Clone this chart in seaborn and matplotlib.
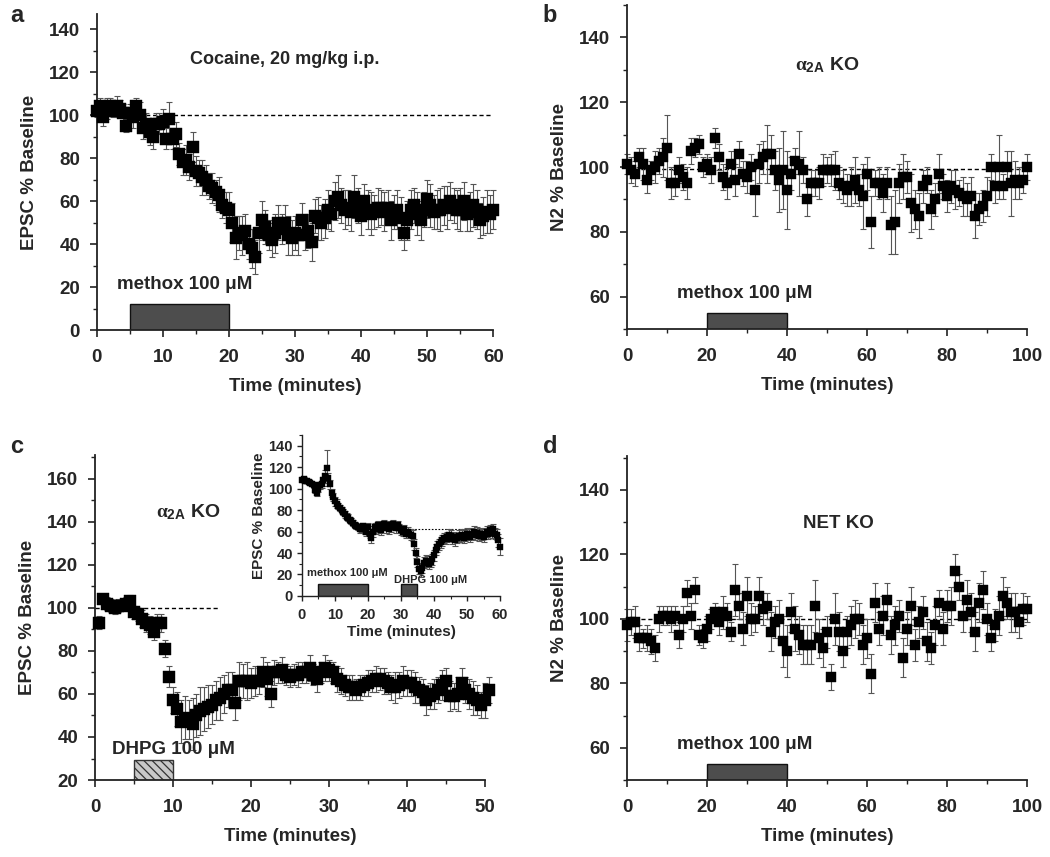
import numpy as np
import pandas as pd
import seaborn as sns
import matplotlib.pyplot as plt
from matplotlib.ticker import MultipleLocator

# ---- data ----
# panel a: cocaine, EPSC % baseline, sampled every 0.5 min from 0 to 60
a_time = np.arange(0, 60.5, 0.5)
a_epsc = [102, 104, 99, 103, 104, 102, 104, 103, 101, 95,
          101, 99, 104, 100, 94, 96, 92, 90, 96, 96,
          97, 89, 98, 89, 91, 82, 78, 79, 76, 85,
          74, 73, 71, 70, 67, 66, 64, 63, 58, 57,
          56, 50, 43, 45, 44, 46, 40, 38, 34, 45,
          51, 48, 44, 42, 45, 50, 47, 50, 44, 43,
          45, 44, 51, 44, 46, 41, 53, 52, 50, 52,
          56, 54, 60, 62, 58, 56, 57, 55, 62, 58,
          53, 60, 56, 54, 55, 57, 57, 55, 57, 51,
          55, 56, 52, 45, 51, 56, 58, 54, 51, 56,
          61, 58, 55, 56, 56, 58, 57, 60, 58, 56,
          56, 60, 54, 55, 58, 56, 51, 53, 55, 54,
          56]
a_err = [3, 4, 4, 5, 4, 3, 5, 4, 4, 3,
         4, 5, 4, 6, 5, 5, 6, 6, 5, 5,
         6, 5, 8, 5, 6, 5, 6, 7, 6, 7,
         7, 6, 8, 7, 6, 7, 6, 8, 6, 7,
         8, 9, 10, 8, 9, 8, 7, 9, 8, 9,
         9, 8, 7, 8, 9, 8, 7, 8, 9, 8,
         8, 9, 8, 7, 8, 9, 8, 10, 8, 9,
         9, 8, 9, 10, 8, 9, 8, 9, 10, 8,
         9, 8, 9, 10, 8, 9, 8, 9, 8, 9,
         8, 9, 10, 8, 9, 9, 8, 10, 9, 8,
         9, 10, 8, 9, 10, 9, 10, 9, 8, 9,
         10, 9, 8, 9, 10, 9, 8, 9, 10, 9,
         9]

# panel b: alpha2A KO, N2 % baseline, every minute 0-100
b_time = np.arange(0, 101, 1)
b_n2 = [101, 99, 98, 103, 101, 96, 99, 100, 102, 103,
        106, 95, 95, 99, 97, 95, 105, 106, 107, 100,
        101, 99, 109, 103, 97, 95, 101, 96, 104, 98,
        97, 100, 93, 101, 103, 104, 104, 99, 96, 99,
        93, 98, 102, 101, 99, 90, 95, 95, 95, 99,
        99, 99, 99, 95, 94, 93, 94, 96, 93, 91,
        98, 83, 95, 95, 92, 95, 82, 83, 95, 97,
        97, 89, 87, 85, 94, 96, 87, 90, 98, 94,
        91, 94, 93, 92, 91, 90, 91, 85, 87, 88,
        91, 100, 94, 100, 94, 100, 95, 96, 95, 96,
        100]
b_err = [3, 4, 4, 3, 5, 4, 3, 5, 4, 6,
         10, 5, 4, 4, 4, 5, 4, 3, 3, 3,
         3, 4, 3, 4, 4, 5, 4, 5, 4, 4,
         5, 4, 8, 6, 5, 9, 6, 6, 10, 12,
         12, 5, 4, 10, 4, 5, 4, 4, 5, 5,
         4, 5, 6, 5, 5, 5, 6, 7, 5, 10,
         5, 8, 4, 5, 6, 5, 9, 10, 6, 7,
         5, 9, 6, 7, 5, 4, 6, 5, 6, 4,
         5, 5, 6, 4, 6, 5, 6, 7, 5, 5,
         6, 4, 5, 10, 4, 5, 10, 6, 5, 4,
         4]

# panel c: alpha2A KO, DHPG, EPSC % baseline, every 0.5 min 0.5-50.5
c_time = np.arange(0.5, 51, 0.5)
c_epsc = [93, 104, 102, 101, 100, 101, 101, 102, 103, 98,
          97, 95, 93, 92, 89, 93, 93, 81, 68, 57,
          53, 47, 49, 48, 46, 50, 52, 53, 54, 55,
          57, 58, 60, 62, 62, 56, 66, 66, 66, 65,
          66, 66, 70, 67, 60, 70, 70, 71, 69, 68,
          69, 69, 70, 70, 72, 69, 67, 70, 72, 71,
          70, 67, 66, 64, 63, 63, 62, 63, 64, 65,
          66, 67, 67, 66, 65, 63, 63, 64, 66, 65,
          65, 63, 62, 61, 57, 59, 60, 62, 64, 66,
          59, 59, 60, 65, 62, 60, 58, 57, 55, 57,
          62]
c_err = [3, 2, 3, 3, 3, 3, 2, 3, 3, 3,
         3, 4, 4, 4, 4, 4, 4, 4, 5, 6,
         8, 10, 10, 9, 12, 10, 11, 10, 10, 9,
         9, 10, 9, 8, 8, 8, 9, 8, 9, 7,
         7, 6, 7, 8, 6, 6, 5, 6, 5, 5,
         5, 6, 5, 5, 6, 5, 6, 5, 6, 5,
         5, 6, 6, 5, 6, 6, 5, 6, 5, 6,
         5, 6, 5, 6, 5, 6, 7, 6, 7, 6,
         6, 7, 6, 6, 7, 6, 7, 6, 7, 6,
         7, 6, 8, 7, 6, 7, 8, 7, 6, 8,
         6]

# inset of c: methox then DHPG, every 0.5 min 0-60
i_time = np.arange(0, 60.5, 0.5)
i_epsc = [108, 109, 107, 107, 106, 105, 104, 103, 99, 96,
          100, 103, 104, 108, 112, 119, 110, 104, 96, 92,
          88, 86, 84, 82, 80, 78, 76, 74, 73, 71,
          70, 68, 66, 65, 64, 62, 63, 65, 62, 60,
          64, 58, 54, 60, 64, 62, 66, 63, 61, 65,
          67, 63, 66, 62, 64, 67, 65, 63, 66, 63,
          61, 60, 62, 58, 60, 58, 57, 56, 48, 40,
          32, 25, 23, 26, 31, 33, 32, 30, 32, 34,
          38, 43, 46, 48, 50, 52, 54, 53, 55, 57,
          56, 53, 55, 52, 54, 56, 55, 57, 54, 56,
          58, 57, 55, 58, 60, 57, 59, 56, 58, 57,
          55, 58, 60, 58, 61, 59, 62, 58, 57, 52,
          46]
i_err = [2, 2, 2, 2, 2, 2, 2, 2, 3, 3,
         3, 3, 3, 3, 5, 17, 5, 4, 4, 4,
         4, 4, 3, 3, 3, 3, 3, 3, 3, 3,
         3, 3, 3, 3, 3, 3, 3, 3, 4, 4,
         4, 4, 5, 5, 4, 4, 4, 4, 4, 4,
         4, 4, 4, 4, 4, 4, 4, 4, 4, 4,
         4, 4, 4, 4, 4, 4, 5, 5, 5, 5,
         5, 5, 5, 5, 5, 5, 5, 5, 5, 5,
         5, 5, 5, 5, 5, 5, 5, 5, 5, 5,
         5, 5, 5, 5, 5, 5, 5, 5, 5, 5,
         5, 5, 5, 5, 5, 5, 5, 5, 5, 5,
         5, 5, 5, 5, 5, 5, 5, 5, 5, 6,
         8]

# panel d: NET KO, N2 % baseline, every minute 0-100
d_time = np.arange(0, 101, 1)
d_n2 = [98, 99, 99, 94, 94, 94, 93, 91, 100, 101,
        101, 100, 101, 95, 100, 108, 101, 109, 95, 94,
        97, 100, 102, 99, 102, 101, 96, 109, 104, 97,
        107, 100, 100, 107, 103, 104, 96, 99, 100, 93,
        90, 102, 97, 95, 92, 92, 92, 104, 94, 91,
        96, 82, 100, 96, 90, 96, 98, 100, 100, 92,
        94, 83, 105, 97, 101, 106, 95, 98, 101, 88,
        97, 104, 92, 99, 102, 93, 91, 98, 105, 97,
        104, 104, 115, 110, 101, 106, 102, 96, 105, 109,
        100, 94, 98, 101, 107, 105, 102, 102, 99, 103,
        103]
d_err = [5, 4, 5, 4, 3, 4, 4, 4, 4, 3,
         3, 4, 3, 4, 4, 4, 4, 4, 3, 3,
         4, 3, 3, 4, 5, 4, 3, 8, 4, 5,
         6, 5, 4, 6, 5, 4, 6, 5, 6, 8,
         8, 6, 7, 6, 6, 6, 6, 8, 6, 6,
         5, 4, 8, 6, 5, 5, 6, 6, 5, 6,
         6, 6, 6, 5, 6, 5, 6, 6, 5, 6,
         5, 6, 5, 5, 5, 6, 5, 6, 4, 5,
         5, 6, 5, 4, 5, 6, 6, 6, 6, 6,
         5, 4, 5, 6, 6, 5, 6, 6, 5, 5,
         4]

# drug application windows (start, end) in minutes
a_methox = (5, 20)
b_methox = (20, 40)
c_dhpg = (5, 10)
i_methox = (5, 20)
i_dhpg = (30, 35)
d_methox = (20, 40)

# ---- style ----
sns.set_style('ticks')
plt.rcParams['font.family'] = ['Liberation Sans', 'DejaVu Sans']
plt.rcParams['font.weight'] = 'bold'
plt.rcParams['axes.labelweight'] = 'bold'
plt.rcParams['mathtext.fontset'] = 'custom'
plt.rcParams['mathtext.it'] = 'Liberation Serif'
plt.rcParams['mathtext.rm'] = 'Liberation Sans:bold'
plt.rcParams['mathtext.bf'] = 'Liberation Sans:bold'
plt.rcParams['hatch.linewidth'] = 0.9

fig = plt.figure(figsize=(10.5, 8.57), dpi=100)
ax_a = fig.add_axes([0.0921, 0.6149, 0.3777, 0.3687])
ax_b = fig.add_axes([0.5971, 0.6161, 0.381, 0.378])
ax_c = fig.add_axes([0.0905, 0.0898, 0.3714, 0.3792])
ax_d = fig.add_axes([0.5971, 0.0898, 0.381, 0.378])
ax_i = fig.add_axes([0.2876, 0.3046, 0.1886, 0.1879])
ax_i.patch.set_alpha(0)


def draw_series(ax, t, v, err, size):
    df = pd.DataFrame({'t': t, 'v': v, 'err': err})
    ax.errorbar(df['t'], df['v'], yerr=df['err'], fmt='none', ecolor='#555555',
                elinewidth=0.8, capsize=2.4, capthick=0.8, zorder=2, clip_on=False)
    sns.scatterplot(data=df, x='t', y='v', marker='s', s=size, color='black',
                    edgecolor='black', linewidth=0.3, ax=ax, zorder=3, clip_on=False,
                    legend=False)


def style_axis(ax, xlim, ylim, xmaj, xmin, ymaj, ymin, ylabel, fs=13.5, lfs=13.5, pad=9):
    ax.set_xlim(*xlim)
    ax.set_ylim(*ylim)
    ax.xaxis.set_major_locator(MultipleLocator(xmaj))
    ax.xaxis.set_minor_locator(MultipleLocator(xmin))
    ax.yaxis.set_major_locator(MultipleLocator(ymaj))
    ax.yaxis.set_minor_locator(MultipleLocator(ymin))
    sns.despine(ax=ax)
    for s in ['left', 'bottom']:
        ax.spines[s].set_linewidth(1.3)
        ax.spines[s].set_color('#222222')
    ax.tick_params(which='major', direction='out', length=5, width=1.2,
                   labelsize=fs, color='#222222')
    ax.tick_params(which='minor', direction='out', length=3, width=1.0, color='#222222')
    ax.tick_params(axis='x', which='major', pad=pad)
    ax.tick_params(axis='y', which='major', pad=7)
    ax.set_xlabel('Time (minutes)', fontsize=lfs, labelpad=8)
    ax.set_ylabel(ylabel, fontsize=lfs, labelpad=8)


def drug_bar(ax, span, y0, height, label, lx, ly, fs=13.5, hatched=False):
    if hatched:
        ax.bar(span[0], height, width=span[1] - span[0], bottom=y0, align='edge',
               color='#c8c8c8', edgecolor='#333333', hatch='\\\\\\\\', linewidth=1.0, zorder=1)
    else:
        ax.bar(span[0], height, width=span[1] - span[0], bottom=y0, align='edge',
               color='#4d4d4d', edgecolor='#111111', linewidth=1.0, zorder=1)
    if label:
        ax.text(lx, ly, label, fontsize=fs, fontweight='bold', ha='left', va='center')


dash = (0, (3, 2))

# a
ax_a.plot([0, 60], [100, 100], ls=dash, color='black', lw=1, zorder=1)
draw_series(ax_a, a_time, a_epsc, a_err, 70)
style_axis(ax_a, (0, 60), (0, 147), 10, 5, 20, 10, 'EPSC % Baseline')
drug_bar(ax_a, a_methox, 0, 12, 'methox 100 \u03bcM', 3, 21)
ax_a.text(28.5, 126, 'Cocaine, 20 mg/kg i.p.', fontsize=13, ha='center', va='center')

# b
ax_b.plot([0, 100], [99.5, 99.5], ls=dash, color='black', lw=1, zorder=1)
draw_series(ax_b, b_time, b_n2, b_err, 55)
style_axis(ax_b, (0, 100), (50, 150), 20, 10, 20, 10, 'N2 % Baseline')
drug_bar(ax_b, b_methox, 50, 5, 'methox 100 \u03bcM', 12.5, 61)
ax_b.text(50, 131.5, r'$\alpha_{\mathbf{2A}}$ KO', fontsize=14, ha='center', va='center')

# c
ax_c.plot([0, 16], [100, 100], ls=dash, color='black', lw=1, zorder=1)
draw_series(ax_c, c_time, c_epsc, c_err, 70)
style_axis(ax_c, (0, 50), (20, 171), 10, 5, 20, 10, 'EPSC % Baseline')
drug_bar(ax_c, c_dhpg, 20, 9.3, 'DHPG 100 \u03bcM', 2.2, 34, hatched=True)
ax_c.text(12, 144.5, r'$\alpha_{\mathbf{2A}}$ KO', fontsize=14, ha='center', va='center')

# inset
ax_i.plot([20, 61], [62, 62], ls=(0, (1.5, 1.5)), color='black', lw=0.8, zorder=1)
draw_series(ax_i, i_time, i_epsc, i_err, 18)
style_axis(ax_i, (0, 60), (0, 150), 10, 5, 20, 10, 'EPSC % Baseline', fs=10.5, lfs=11, pad=5)
ax_i.tick_params(which='major', length=3.5, width=1.0)
ax_i.tick_params(which='minor', length=2, width=0.8)
ax_i.tick_params(axis='y', which='major', pad=3)
ax_i.xaxis.labelpad = 2
ax_i.yaxis.labelpad = 2
for s in ['left', 'bottom']:
    ax_i.spines[s].set_linewidth(1.0)
drug_bar(ax_i, i_methox, 0, 11, 'methox 100 \u03bcM', 1.5, 21, fs=8)
drug_bar(ax_i, i_dhpg, 0, 11, 'DHPG 100 \u03bcM', 28, 15, fs=8)

# d
ax_d.plot([0, 100], [100, 100], ls=dash, color='black', lw=1, zorder=1)
draw_series(ax_d, d_time, d_n2, d_err, 55)
style_axis(ax_d, (0, 100), (50, 150.5), 20, 10, 20, 10, 'N2 % Baseline')
drug_bar(ax_d, d_methox, 50, 5, 'methox 100 \u03bcM', 12.5, 61)
ax_d.text(52.75, 129.6, 'NET KO', fontsize=13.5, ha='center', va='center')

# panel letters
for lab, x, y in [('a', 0.0095, 0.9743), ('b', 0.517, 0.9743),
                  ('c', 0.0095, 0.4714), ('d', 0.517, 0.4714)]:
    fig.text(x, y, lab, fontsize=17, fontweight='bold', va='baseline', ha='left')

fig.savefig('out.png', dpi=100)
